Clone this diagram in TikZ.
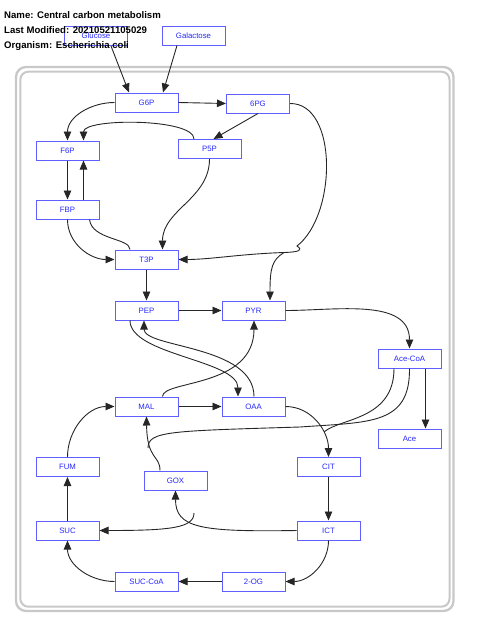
\documentclass[tikz,border=0pt]{standalone}
\usepackage{fontspec}
\setmainfont{Liberation Sans}
\usetikzlibrary{arrows.meta}
\definecolor{nodeblue}{RGB}{95,95,255}
\definecolor{txtblue}{RGB}{40,40,255}
\definecolor{framegray}{RGB}{200,200,200}
\begin{document}
\begin{tikzpicture}[x=1pt,y=-1pt,
 met/.style={draw=nodeblue,line width=1pt,fill=white,minimum width=63pt,minimum height=19pt,inner sep=0pt,text=txtblue,font=\fontsize{7.8}{9}\selectfont},
 rx/.style={draw=black!85,line width=0.9pt,-{Triangle[length=9pt,width=7.5pt]}},
 ln/.style={draw=black!85,line width=0.9pt},
 title/.style={anchor=base west,inner sep=0pt,font=\fontsize{9.6}{11}\selectfont\bfseries}]
\useasboundingbox (0,0) rectangle (480,637);
% frame
\draw[framegray,line width=2.3pt,rounded corners=10pt] (16,67) rectangle (453.5,611);
\draw[framegray,line width=2pt,rounded corners=8pt] (20.3,71.7) rectangle (449.5,606.7);
% nodes
\node[met] (glc) at (96,36) {Glucose};
\node[met] (gal) at (193.5,35.5) {Galactose};
\node[met] (g6p) at (146.5,102.5) {G6P};
\node[met] (pg6) at (258,103.5) {6PG};
\node[met] (f6p) at (67.5,150.5) {F6P};
\node[met] (p5p) at (209.5,149) {P5P};
\node[met] (fbp) at (67.5,209.5) {FBP};
\node[met] (t3p) at (146.5,259.5) {T3P};
\node[met] (pep) at (146.5,310.5) {PEP};
\node[met] (pyr) at (253.5,310.5) {PYR};
\node[met] (acoa) at (409.5,358.5) {Ace-CoA};
\node[met] (mal) at (146.5,406.5) {MAL};
\node[met] (oaa) at (253.5,406.5) {OAA};
\node[met] (ace) at (409.5,438.5) {Ace};
\node[met] (fum) at (67.5,467) {FUM};
\node[met] (cit) at (328.5,467) {CIT};
\node[met] (gox) at (175.5,480.5) {GOX};
\node[met] (suc) at (67.5,530.5) {SUC};
\node[met] (ict) at (328.5,530.5) {ICT};
\node[met] (succoa) at (146.5,581.5) {SUC-CoA};
\node[met] (og2) at (253.5,581.5) {2-OG};
% junction points
\coordinate (j1) at (297,246);
\coordinate (j2) at (284,252.5);
\coordinate (j3) at (148,448);
\coordinate (j4) at (194,513);
\coordinate (j5) at (324,432);
% edges
\draw[rx] ([xshift=15pt]glc.south) -- ([xshift=-17.5pt]g6p.north);
\draw[rx] ([xshift=-16.5pt]gal.south) -- ([xshift=16.5pt]g6p.north);
\draw[rx] (g6p.east) -- (pg6.west);
\draw[rx] (g6p.west) to[out=180,in=90] (f6p.north);
\draw[rx] ([xshift=-15.5pt]p5p.north) .. controls (194,118) and (83.5,118) .. ([xshift=16pt]f6p.north);
\draw[rx] (pg6.south) -- ([xshift=4pt]p5p.north);
\draw[rx] (f6p.south) -- (fbp.north);
\draw[rx] ([xshift=16pt]fbp.north) -- ([xshift=16pt]f6p.south);
\draw[rx] (fbp.south) to[out=-90,in=180] (t3p.west);
\draw[ln] ([xshift=-16.5pt]t3p.north) .. controls (130,238) and (92,240) .. ([xshift=22pt]fbp.south);
\draw[rx] (p5p.south) to[out=-90,in=90] ([xshift=16pt]t3p.north);
\draw[ln] (pg6.east) .. controls (338,103) and (337,215) .. (j1) .. controls (303,250) and (300,252) .. (j2);
\draw[rx] (j2) .. controls (240,254) and (210,259.5) .. (t3p.east);
\draw[rx] (j2) .. controls (272,260) and (270,268) .. ([xshift=16.5pt]pyr.north);
\draw[rx] (t3p.south) -- (pep.north);
\draw[rx] (pep.east) -- (pyr.west);
\draw[rx] (pyr.east) to[out=0,in=90] (acoa.north);
\draw[rx] ([xshift=-16.5pt]pep.south) .. controls (130,355) and (238,360) .. ([xshift=-15.5pt]oaa.north);
\draw[rx] ([xshift=0.5pt]oaa.north) .. controls (254,345) and (144,348) .. ([xshift=-2.5pt]pep.south);
\draw[rx] ([xshift=16pt]mal.north) .. controls (162.5,380) and (254,388) .. ([xshift=0.5pt]pyr.south);
\draw[rx] (mal.east) -- (oaa.west);
\draw[rx] (fum.north) to[out=90,in=180] (mal.west);
\draw[rx] ([xshift=-15.5pt]gox.north) .. controls (160,455) and (147,460) .. (mal.south);
\draw[ln] (acoa.south) .. controls (410,425) and (370,422) .. (300,427) .. controls (170,431) and (148,431) .. (j3);
\draw[ln] ([xshift=-15.5pt]acoa.south) .. controls (394,420) and (340,418) .. (j5);
\draw[rx] (oaa.east) to[out=0,in=90] (cit.north);
\draw[rx] ([xshift=16pt]acoa.south) -- ([xshift=16pt]ace.north);
\draw[rx] (cit.south) -- (ict.north);
\draw[rx] (ict.west) .. controls (200,532) and (175.5,528) .. (gox.south);
\draw[rx] (j4) .. controls (194,528) and (170,530.5) .. (suc.east);
\draw[rx] (ict.south) to[out=-90,in=0] (og2.east);
\draw[rx] (og2.west) -- (succoa.east);
\draw[rx] (succoa.west) to[out=180,in=-90] (suc.south);
\draw[rx] (suc.north) -- (fum.south);
% title
\node[title] (t1) at (4,18.3) {Name: Central carbon metabolism};
\node[title] (t2) at (4,33.3) {Last Modified: 20210521105029};
\node[title] (t3) at (4,48.3) {Organism: Escherichia coli};
\end{tikzpicture}
\end{document}
